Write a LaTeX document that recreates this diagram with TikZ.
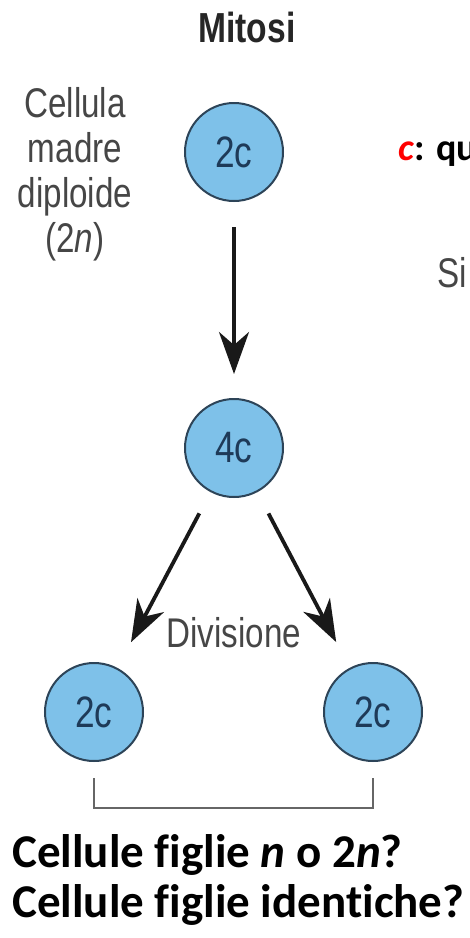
\documentclass[tikz,border=0pt]{standalone}
\usepackage{fontspec}
\usetikzlibrary{arrows.meta}
\newfontfamily\etichetta[FakeStretch=0.8]{Liberation Sans}
\newfontfamily\domanda[Ligatures=NoCommon]{Carlito}
\definecolor{celeste}{RGB}{126,193,233}
\definecolor{bordo}{RGB}{45,68,88}
\definecolor{testoblu}{RGB}{30,58,88}
\definecolor{grigio}{RGB}{70,70,70}

\tikzset{
  cellula/.style={circle, draw=bordo, line width=2pt, fill=celeste, minimum size=98pt,
    inner sep=0pt, text=testoblu, font=\etichetta\fontsize{44}{45}\selectfont},
  freccia/.style={-{Stealth[length=42pt,width=30pt,inset=13pt]}, line width=3.8pt, black!90},
  testo/.style={text=grigio, inner sep=0pt, font=\etichetta\fontsize{41.5}{45}\selectfont},
  graffa/.style={line width=2.5pt, black!60},
}

\begin{document}
\begin{tikzpicture}[x=1pt, y=-1pt]
    \useasboundingbox (0,0) rectangle (470,938);
    \clip (0,0) rectangle (470,938);

    % Titolo
    \node[testo, text=black!85, font=\etichetta\bfseries\fontsize{42}{45}\selectfont, anchor=base] (titolo) at (247,42) {Mitosi};

    % Cellule
    \node[cellula] (madre) at (234,152) {2c};
    \node[cellula] (meta) at (234,448) {4c};
    \node[cellula] (figliasx) at (94,712) {2c};
    \node[cellula] (figliadx) at (373,712) {2c};

    % Etichette
    \node[testo, align=center, anchor=base] (etmadre) at (75,252) {Cellula\\madre\\diploide\\(2\textit{n})};
    \node[testo, anchor=base] (divisione) at (234,647) {Divisione};
    \node[testo, anchor=base west] (sinistra) at (437,287) {Si};

    % Legenda
    \node[anchor=base west, inner sep=0pt, font=\domanda\bfseries\fontsize{38}{40}\selectfont] (legenda) at (398,160) {\textcolor{red}{\textit{c}}: qu};

    % Frecce
    \draw[freccia, shorten <=25pt, shorten >=24pt] (madre) -- (meta);
    \draw[freccia, shorten <=24pt, shorten >=29pt] (meta) -- (figliasx);
    \draw[freccia, shorten <=24pt, shorten >=29pt] (meta) -- (figliadx);

    % Parentesi
    \draw[graffa] ([yshift=-16pt]figliasx.south) -- ++(0,30) -| ([yshift=-16pt]figliadx.south);

    % Domande
    \node[anchor=base west, align=left, inner sep=0pt, font=\domanda\bfseries\fontsize{47}{50}\selectfont] (domande) at (12,917) {Cellule figlie \textit{n} o 2\textit{n}?\\Cellule figlie identiche?};
\end{tikzpicture}
\end{document}
